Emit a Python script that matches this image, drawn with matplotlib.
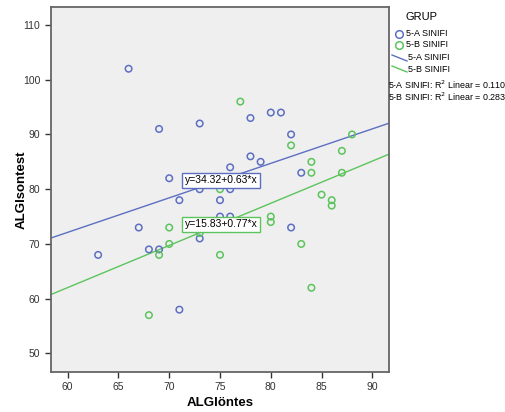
import numpy as np
import matplotlib.pyplot as plt
from matplotlib.lines import Line2D

plt.rcParams['font.family'] = ['Liberation Sans', 'DejaVu Sans']

# 5-A SINIFI
a_x = [66, 69, 73, 70, 78, 80, 81, 82, 78, 79, 76, 83, 73, 71, 67, 73, 68, 69, 63, 71, 76, 75, 75, 76, 82]
a_y = [102, 91, 92, 82, 93, 94, 94, 90, 86, 85, 84, 83, 80, 78, 73, 71, 69, 69, 68, 58, 80, 78, 75, 75, 73]
# 5-B SINIFI
b_x = [77, 82, 88, 87, 84, 84, 87, 75, 70, 73, 70, 69, 68, 80, 80, 75, 83, 85, 86, 86, 84]
b_y = [96, 88, 90, 87, 85, 83, 83, 80, 73, 72, 70, 68, 57, 75, 74, 68, 70, 79, 78, 77, 62]

a_fit = (34.32, 0.63)
b_fit = (15.83, 0.77)
a_r2 = 0.110
b_r2 = 0.283
groups = ['5-A SINIFI', '5-B SINIFI']

blue = '#5D6FC2'
green = '#5CC45C'

W, H = 506, 412
fig = plt.figure(figsize=(W / 100, H / 100), dpi=100)
ax = fig.add_axes([50.7 / W, 1 - 371.7 / H, (389.3 - 50.7) / W, (371.7 - 6.7) / H])
ax.set_facecolor('#EFEFEF')

xmin, xmax = 58.33, 91.67
ax.set_xlim(xmin, xmax)
ax.set_ylim(46.67, 113.33)

xx = np.array([xmin, xmax])
ax.plot(xx, a_fit[0] + a_fit[1] * xx, color=blue, lw=1, zorder=2)
ax.plot(xx, b_fit[0] + b_fit[1] * xx, color=green, lw=1, zorder=2)

ax.scatter(a_x, a_y, s=22, facecolors='none', edgecolors=blue, linewidths=1.1, zorder=3)
ax.scatter(b_x, b_y, s=22, facecolors='none', edgecolors=green, linewidths=1.1, zorder=3)

ax.text(71.55, 81.6, 'y=%.2f+%.2f*x' % a_fit, fontsize=7.5, ha='left', va='center', zorder=5,
        bbox=dict(boxstyle='square,pad=0.25', fc='white', ec=blue, lw=1))
ax.text(71.55, 73.6, 'y=%.2f+%.2f*x' % b_fit, fontsize=7.5, ha='left', va='center', zorder=5,
        bbox=dict(boxstyle='square,pad=0.25', fc='white', ec=green, lw=1))

ax.set_xticks(range(60, 91, 5))
ax.set_yticks(range(50, 111, 10))
ax.tick_params(direction='out', length=4, width=1, labelsize=7.5, colors='#333333')
for s in ax.spines.values():
    s.set_color('#666666')
    s.set_linewidth(1.3)

# legend drawn by hand
def fx(px):
    return px / W

def fy(py):
    return 1 - py / H

fig.text(fx(220), fy(403), 'ALGlöntes', fontsize=9.5, fontweight='bold', ha='center', va='center')
fig.text(fx(22), fy(190), 'ALGIsontest', fontsize=9.5, fontweight='bold', ha='center', va='center',
         rotation=90)

fig.text(fx(406), fy(17), 'GRUP', fontsize=8, va='center', ha='left')
for py, col, name in [(34, blue, groups[0]), (44.7, green, groups[1])]:
    fig.add_artist(Line2D([fx(399.3)], [fy(py)], marker='o', ms=5.5, mfc='none', mec=col, mew=1.1,
                          transform=fig.transFigure))
    fig.text(fx(406), fy(py), name, fontsize=6.5, va='center', ha='left')
for py, col, name in [(58, blue, groups[0]), (69, green, groups[1])]:
    fig.add_artist(Line2D([fx(392), fx(407)], [fy(py - 3), fy(py + 3)], color=col, lw=1,
                          transform=fig.transFigure))
    fig.text(fx(408), fy(py), name, fontsize=6.5, va='center', ha='left')

fig.text(fx(388), fy(85), '%s: R$^2$ Linear = %.3f' % (groups[0], a_r2), fontsize=6.4, va='center', ha='left')
fig.text(fx(388), fy(97), '%s: R$^2$ Linear = %.3f' % (groups[1], b_r2), fontsize=6.4, va='center', ha='left')

fig.savefig('out.png', dpi=100)
